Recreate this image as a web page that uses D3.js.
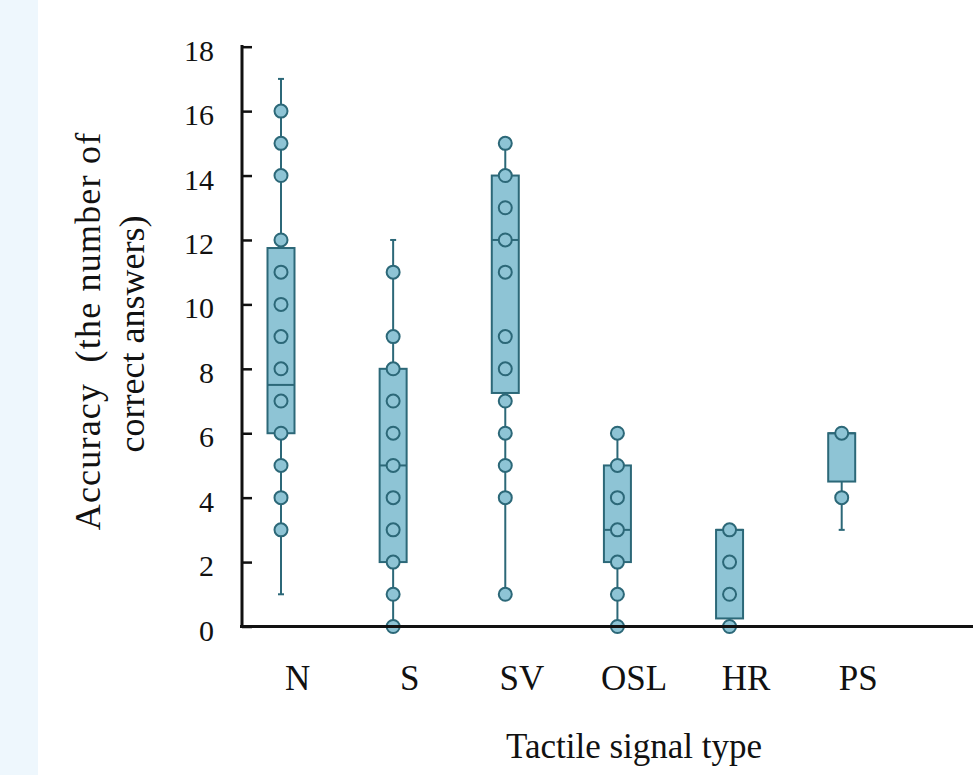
<!DOCTYPE html>
<html>
<head>
  <meta charset="UTF-8">
  <style>
    body {
        margin: 0;
        background: #fff;
    }
    svg text {
        font-family: "Liberation Serif", "Times New Roman", serif;
        fill: #111;
    }
    .tick text {
        font-size: 30px;
    }
    .cat {
        font-size: 35px;
        text-anchor: middle;
    }
    .title {
        font-size: 35px;
        text-anchor: middle;
        white-space: pre;
    }
    .ytitle {
        font-size: 36px;
        text-anchor: middle;
        white-space: pre;
    }
  </style>
</head>
<body>
<svg width="973" height="775"></svg>

<script src="https://d3js.org/d3.v7.min.js"></script>
<script>

// tactile signal types
const categories = ["N", "S", "SV", "OSL", "HR", "PS"];

// box stats: whisker low, q1, median, q3, whisker high
const whiskerLow  = [1, 0, 1, 0, 0, 3];
const q1          = [6, 2, 7.25, 2, 0.25, 4.5];
const median      = [7.5, 5, 12, 3, 3, 6];
const q3          = [11.75, 8, 14, 5, 3, 6];
const whiskerHigh = [17, 12, 15, 6, 3, 6];

// individual answers plotted on each box
const points = [
  [3, 4, 5, 6, 7, 8, 9, 10, 11, 12, 14, 15, 16],
  [0, 1, 2, 3, 4, 5, 6, 7, 8, 9, 11],
  [1, 4, 5, 6, 7, 8, 9, 11, 12, 13, 14, 15],
  [0, 1, 2, 3, 4, 5, 6],
  [0, 1, 2, 3],
  [4, 6]
];

const yTicks = [0, 2, 4, 6, 8, 10, 12, 14, 16, 18];

const fillColor = "#8ec4d5",
      strokeColor = "#2c6878";

let svg = d3.select("svg");

// light strip on the left edge
svg.append("rect")
  .attr("x", 0).attr("y", 0)
  .attr("width", 38).attr("height", 775)
  .attr("fill", "#eef7fd");

let x = d3.scalePoint()
  .domain(categories)
  .range([281, 841.7]);

let y = d3.scaleLinear()
  .domain([0, 18])
  .range([626.5, 46.7]);

let boxW = 27;

let rows = categories.map((c, i) => ({
  cat: c,
  lo: whiskerLow[i], q1: q1[i], med: median[i], q3: q3[i], hi: whiskerHigh[i],
  pts: points[i]
}));

// y axis, ticks pointing inwards
let yAxis = svg.append("g")
  .attr("transform", "translate(242,0)")
  .call(d3.axisLeft(y).tickValues(yTicks).tickSize(-10).tickSizeOuter(0).tickPadding(28));
yAxis.select(".domain").remove();
yAxis.selectAll(".tick line").attr("stroke", "#111").attr("stroke-width", 2.5);
yAxis.selectAll(".tick text").attr("dy", "0.45em").attr("fill", "#111");

svg.append("line")
  .attr("x1", 242).attr("x2", 242)
  .attr("y1", 45).attr("y2", y(0))
  .attr("stroke", "#111").attr("stroke-width", 3);

let g = svg.append("g").selectAll("g")
  .data(rows)
  .join("g");

// whiskers
g.append("line")
  .attr("x1", d => x(d.cat)).attr("x2", d => x(d.cat))
  .attr("y1", d => y(d.lo)).attr("y2", d => y(d.hi))
  .attr("stroke", strokeColor).attr("stroke-width", 2);

// small caps at the whisker ends
g.selectAll(".cap")
  .data(d => [d.lo, d.hi].map(v => ({cat: d.cat, v: v})))
  .join("line")
  .attr("class", "cap")
  .attr("x1", d => x(d.cat) - 3).attr("x2", d => x(d.cat) + 3)
  .attr("y1", d => y(d.v)).attr("y2", d => y(d.v))
  .attr("stroke", strokeColor).attr("stroke-width", 2);

// boxes
g.append("rect")
  .attr("x", d => x(d.cat) - boxW / 2)
  .attr("width", boxW)
  .attr("y", d => y(d.q3))
  .attr("height", d => y(d.q1) - y(d.q3))
  .attr("fill", fillColor)
  .attr("stroke", strokeColor).attr("stroke-width", 2);

// medians
g.append("line")
  .attr("x1", d => x(d.cat) - boxW / 2).attr("x2", d => x(d.cat) + boxW / 2)
  .attr("y1", d => y(d.med)).attr("y2", d => y(d.med))
  .attr("stroke", strokeColor).attr("stroke-width", 2);

// x axis line
svg.append("line")
  .attr("x1", 240).attr("x2", 973)
  .attr("y1", y(0)).attr("y2", y(0))
  .attr("stroke", "#111").attr("stroke-width", 3);

// points on top
g.selectAll("circle")
  .data(d => d.pts.map(v => ({cat: d.cat, v: v})))
  .join("circle")
  .attr("cx", d => x(d.cat))
  .attr("cy", d => y(d.v))
  .attr("r", 6.5)
  .attr("fill", fillColor)
  .attr("stroke", strokeColor).attr("stroke-width", 2);

// category labels
svg.append("g").selectAll("text")
  .data(categories)
  .join("text")
  .attr("class", "cat")
  .attr("x", d => x(d) + 16.6)
  .attr("y", 690)
  .text(d => d);

// axis titles
svg.append("text")
  .attr("class", "title")
  .attr("x", 634).attr("y", 758)
  .text("Tactile signal type");

svg.append("text")
  .attr("class", "ytitle")
  .attr("transform", "translate(100,331) rotate(-90)")
  .attr("letter-spacing", 1.2)
  .text("Accuracy  (the number of");

svg.append("text")
  .attr("class", "ytitle")
  .attr("transform", "translate(144,334) rotate(-90)")
  .text("correct answers)");

</script>
</body>
</html>
